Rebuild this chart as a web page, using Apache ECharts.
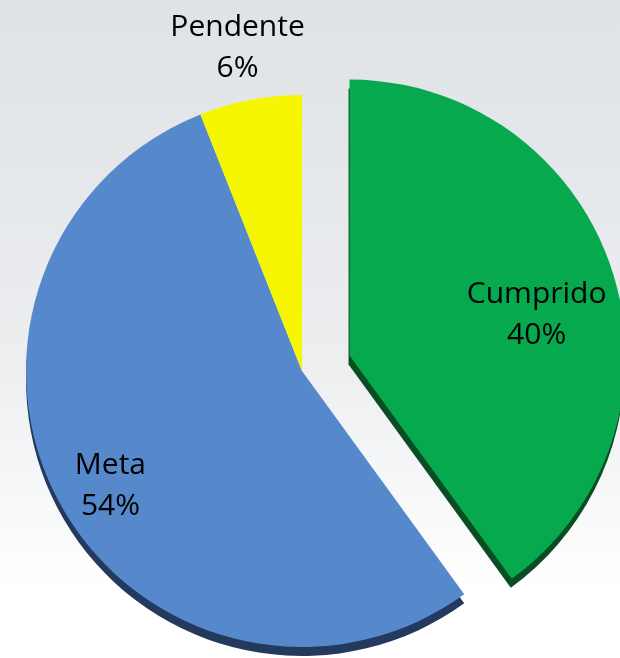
<!DOCTYPE html>
<html>
<head>
<meta charset="utf-8">
<script src="https://cdn.jsdelivr.net/npm/echarts@6/dist/echarts.min.js"></script>
<style>
  html, body { margin: 0; padding: 0; }
  #chart-container { width: 620px; height: 658px; }
</style>
</head>
<body>
<div id="chart-container"></div>
<script>
var dom = document.getElementById('chart-container');
var myChart = echarts.init(dom, null, { renderer: 'canvas' });

// data
var categories = ['Cumprido', 'Meta', 'Pendente'];
var values = [40, 54, 6];
var colors = ['#07a94f', '#5689cb', '#f6f600'];
var edgeColors = ['#0b4d22', '#233a5e', 'rgba(0,0,0,0)'];
// label nudges from the default inside spot
var labelShift = [[53, 3], [-68, 47], [-38, -185]];

var data = categories.map(function (name, i) {
  return {
    name: name,
    value: values[i],
    selected: i === 0,
    itemStyle: {
      color: colors[i],
      shadowColor: edgeColors[i],
      shadowBlur: 0,
      shadowOffsetX: i === 0 ? -1 : 0,
      shadowOffsetY: 9
    }
  };
});

var option = {
  backgroundColor: {
    type: 'linear', x: 0, y: 0, x2: 0, y2: 1,
    colorStops: [
      { offset: 0, color: '#dfe2e6' },
      { offset: 0.55, color: '#eceef0' },
      { offset: 0.9, color: '#ffffff' },
      { offset: 1, color: '#ffffff' }
    ]
  },
  animation: false,
  series: [
    {
      type: 'pie',
      center: [302, 371],
      radius: 276,
      startAngle: 90,
      clockwise: true,
      selectedMode: 'single',
      selectedOffset: 50,
      data: data,
      label: {
        show: true,
        position: 'inside',
        formatter: '{b}\n{d}%',
        fontFamily: 'Open Sans',
        fontSize: 30,
        lineHeight: 41,
        color: '#000'
      },
      labelLine: { show: false },
      labelLayout: function (params) {
        var s = labelShift[params.dataIndex];
        return { dx: s[0], dy: s[1] };
      },
      emphasis: { disabled: true }
    }
  ]
};
myChart.setOption(option);
window.addEventListener('resize', myChart.resize);
</script>
</body>
</html>
